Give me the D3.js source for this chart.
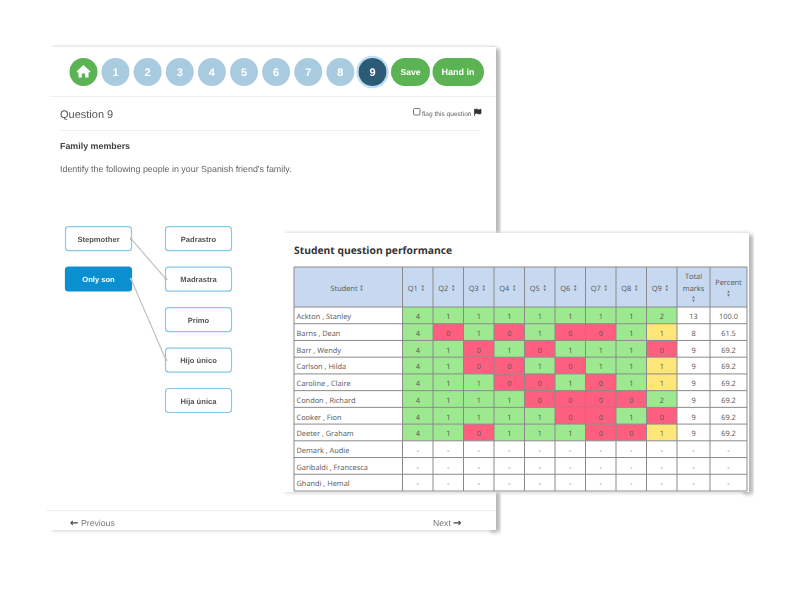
<!DOCTYPE html>
<html>
<head>
<meta charset="utf-8">
<script src="https://cdnjs.cloudflare.com/ajax/libs/d3/7.8.5/d3.min.js"></script>
<style>
html, body { margin: 0; padding: 0; background: #fff; overflow: hidden; }
svg { filter: blur(0.35px); }
text { font-family: "Liberation Sans", Arial, sans-serif; text-rendering: geometricPrecision; }
.tbl text { font-family: "Open Sans", sans-serif; }
</style>
</head>
<body>
<div id="chart"></div>
<script>
//table data
var students = ["Ackton , Stanley", "Barns , Dean", "Barr , Wendy", "Carlson , Hilda", "Caroline , Claire",
                "Condon , Richard", "Cooker , Fion", "Deeter , Graham", "Demark , Audie", "Garibaldi , Francesca", "Ghandi , Hemal"];
var questions = ["Q1", "Q2", "Q3", "Q4", "Q5", "Q6", "Q7", "Q8", "Q9"];
var q1 = [4, 4, 4, 4, 4, 4, 4, 4, null, null, null];
var q2 = [1, 0, 1, 1, 1, 1, 1, 1, null, null, null];
var q3 = [1, 1, 0, 0, 1, 1, 1, 0, null, null, null];
var q4 = [1, 0, 1, 0, 0, 1, 1, 1, null, null, null];
var q5 = [1, 1, 0, 1, 0, 0, 1, 1, null, null, null];
var q6 = [1, 0, 1, 0, 1, 0, 0, 1, null, null, null];
var q7 = [1, 0, 1, 1, 0, 0, 0, 0, null, null, null];
var q8 = [1, 1, 1, 1, 1, 0, 1, 0, null, null, null];
var q9 = [2, 1, 0, 1, 1, 2, 0, 1, null, null, null];
var totals = ["13", "8", "9", "9", "9", "9", "9", "9", "-", "-", "-"];
var percents = ["100.0", "61.5", "69.2", "69.2", "69.2", "69.2", "69.2", "69.2", "-", "-", "-"];
var scores = [q1, q2, q3, q4, q5, q6, q7, q8, q9];

//quiz data
var navPages = ["1", "2", "3", "4", "5", "6", "7", "8", "9"];
var leftItems = ["Stepmother", "Only son"];
var rightItems = ["Padrastro", "Madrastra", "Primo", "Hijo único", "Hija única"];
var links = [["Stepmother", "Madrastra"], ["Only son", "Hijo único"]];

var svg = d3.select("#chart").append("svg")
            .attr("width", 800)
            .attr("height", 599);

var defs = svg.append("defs");
defs.append("filter").attr("id", "shadow")
    .attr("x", "-5%").attr("y", "-5%").attr("width", "110%").attr("height", "110%")
    .append("feGaussianBlur").attr("stdDeviation", 2.2);
defs.append("filter").attr("id", "shadowSoft")
    .attr("x", "-5%").attr("y", "-5%").attr("width", "110%").attr("height", "110%")
    .append("feGaussianBlur").attr("stdDeviation", 1.5);

//a white card, faint shadow all round and a heavier one down the right side
function card(x, y, w, h) {
  svg.append("rect").attr("x", x + 2).attr("y", y - 1).attr("width", w - 2).attr("height", h + 2.5)
     .attr("fill", "#dcdcdc").attr("filter", "url(#shadowSoft)");
  svg.append("rect").attr("x", x + w - 6).attr("y", y + 2).attr("width", 10).attr("height", h)
     .attr("fill", "#b4b4b4").attr("filter", "url(#shadow)");
  svg.append("rect").attr("x", x).attr("y", y).attr("width", w).attr("height", h).attr("fill", "#fff");
}

function txt(parent, x, y, s, size, color, anchor, weight) {
  return parent.append("text")
    .attr("x", x).attr("y", y)
    .attr("font-size", size)
    .attr("fill", color)
    .attr("text-anchor", anchor || "start")
    .attr("font-weight", weight || "normal")
    .text(s);
}

//question card
card(50, 47, 446, 483);

var quiz = svg.append("g");

//nav buttons
var navX = d3.scalePoint().domain(navPages).range([115.5, 372.5]);
var navColor = d3.scaleOrdinal().domain(navPages).range(navPages.map(function(p) { return p == "9" ? "#2c5b78" : "#a9cbdf"; }));

quiz.append("circle").attr("cx", 83.5).attr("cy", 72).attr("r", 14).attr("fill", "#5cb354");
quiz.append("path")
    .attr("transform", "translate(83.5,71.5)")
    .attr("d", "M-7,0 L0,-6.5 L7,0 L5.6,1.2 L5,0.7 L5,6 L1.7,6 L1.7,2 L-1.7,2 L-1.7,6 L-5,6 L-5,0.7 L-5.6,1.2 Z")
    .attr("fill", "#fff");

quiz.append("circle").attr("cx", navX("9")).attr("cy", 72).attr("r", 15.2)
    .attr("fill", "none").attr("stroke", "#bcdcf8").attr("stroke-width", 2);
quiz.selectAll(".nav").data(navPages).enter().append("circle")
    .attr("class", "nav")
    .attr("cx", function(d) { return navX(d); })
    .attr("cy", 72).attr("r", 14)
    .attr("fill", function(d) { return navColor(d); });
quiz.selectAll(".navlabel").data(navPages).enter().append("text")
    .attr("class", "navlabel")
    .attr("x", function(d) { return navX(d); })
    .attr("y", 76)
    .attr("text-anchor", "middle")
    .attr("font-size", 11)
    .attr("font-weight", "bold")
    .attr("fill", "#fff")
    .text(function(d) { return d; });

quiz.append("rect").attr("x", 391).attr("y", 58).attr("width", 39).attr("height", 28).attr("rx", 14).attr("fill", "#5cb354");
txt(quiz, 410.5, 74.5, "Save", 8.6, "#fff", "middle", "bold");
quiz.append("rect").attr("x", 432.5).attr("y", 58).attr("width", 51.5).attr("height", 28).attr("rx", 14).attr("fill", "#5cb354");
txt(quiz, 458, 74.5, "Hand in", 9, "#fff", "middle", "bold");

quiz.append("line").attr("x1", 50).attr("x2", 496).attr("y1", 96.5).attr("y2", 96.5).attr("stroke", "#f0f0f0");
txt(quiz, 60, 117.5, "Question 9", 11, "#555");

quiz.append("rect").attr("x", 413.5).attr("y", 108.5).attr("width", 6.5).attr("height", 6.5).attr("rx", 1)
    .attr("fill", "#fff").attr("stroke", "#777");
txt(quiz, 422, 115.5, "flag this question", 6.6, "#666");
quiz.append("path")
    .attr("d", "M474.5,109 L474.5,116 M475,109.5 L477,109 L478.5,110 L481,109.2 L481,113.5 L478.5,114 L477,113 L475,113.7 Z")
    .attr("fill", "#333").attr("stroke", "#333").attr("stroke-width", 0.8);

quiz.append("line").attr("x1", 60).attr("x2", 480).attr("y1", 130.5).attr("y2", 130.5).attr("stroke", "#eee");
txt(quiz, 60, 149, "Family members", 8.9, "#444", "start", "bold");
txt(quiz, 60, 171.5, "Identify the following people in your Spanish friend's family.", 8.9, "#666");

//matching boxes
var leftY = d3.scalePoint().domain(leftItems).range([238.7, 279]);
var rightY = d3.scalePoint().domain(rightItems).range([238.7, 400.5]);

quiz.selectAll(".lbox").data(leftItems).enter().append("rect")
    .attr("class", "lbox")
    .attr("x", 65.5).attr("width", 66).attr("height", 24).attr("rx", 3)
    .attr("y", function(d) { return leftY(d) - 12; })
    .attr("fill", function(d) { return d == "Only son" ? "#0a8fd0" : "#fff"; })
    .attr("stroke", function(d) { return d == "Only son" ? "#0a8fd0" : "#86c8e6"; })
    .attr("stroke-width", 1.2);
quiz.selectAll(".llabel").data(leftItems).enter().append("text")
    .attr("class", "llabel")
    .attr("x", 98.5)
    .attr("y", function(d) { return leftY(d) + 3; })
    .attr("text-anchor", "middle").attr("font-size", 7.6).attr("font-weight", "bold")
    .attr("fill", function(d) { return d == "Only son" ? "#fff" : "#555"; })
    .text(function(d) { return d; });

quiz.selectAll(".rbox").data(rightItems).enter().append("rect")
    .attr("class", "rbox")
    .attr("x", 165.5).attr("width", 66).attr("height", 24).attr("rx", 3)
    .attr("y", function(d) { return rightY(d) - 12; })
    .attr("fill", "#fff")
    .attr("stroke", "#86c8e6").attr("stroke-width", 1.2);
quiz.selectAll(".rlabel").data(rightItems).enter().append("text")
    .attr("class", "rlabel")
    .attr("x", 198.5)
    .attr("y", function(d) { return rightY(d) + 3; })
    .attr("text-anchor", "middle").attr("font-size", 7.6).attr("font-weight", "bold")
    .attr("fill", "#555")
    .text(function(d) { return d; });

//the lines go over the boxes, with a small dot at each end
links.forEach(function(l) {
  quiz.append("line")
      .attr("x1", 131).attr("y1", leftY(l[0]))
      .attr("x2", 166).attr("y2", rightY(l[1]))
      .attr("stroke", "#bdbdbd").attr("stroke-width", 1.1);
  quiz.append("circle").attr("cx", 131).attr("cy", leftY(l[0])).attr("r", 1.3).attr("fill", "#bdbdbd");
  quiz.append("circle").attr("cx", 166).attr("cy", rightY(l[1])).attr("r", 1.3).attr("fill", "#bdbdbd");
});

//footer of the question card
quiz.append("line").attr("x1", 46).attr("x2", 496).attr("y1", 510.5).attr("y2", 510.5).attr("stroke", "#f0f0f0");
txt(quiz, 70, 526, "←", 10, "#444", "start", "bold").style("font-family", "DejaVu Sans");
txt(quiz, 81, 525.5, "Previous", 8.7, "#777");
txt(quiz, 433, 525.5, "Next", 8.7, "#777");
txt(quiz, 453, 526, "→", 10, "#444", "start", "bold").style("font-family", "DejaVu Sans");

//performance table card
card(283, 233, 466, 259);
var tbl = svg.append("g").attr("class", "tbl");

txt(tbl, 294, 253.5, "Student question performance", 10.3, "#333", "start", "bold");

var headerTop = 267, headerBottom = 307;
var rowY = d3.scaleBand().domain(students).range([headerBottom, 491]);
var qX = d3.scaleBand().domain(questions).range([402.5, 677]);
var scoreColor = d3.scaleOrdinal().domain(["red", "amber", "green"]).range(["#ff5f7f", "#ffe679", "#9ce98f"]);
var grid = "#8a8a8a";
var labelSize = 7.4;

//Q9 is out of 2 and Q1 out of 4, so only Q9 has a middle colour
function cellColor(v, q) {
  if (v === null) return "#fff";
  if (v === 0) return scoreColor("red");
  if (q == "Q9" && v == 1) return scoreColor("amber");
  return scoreColor("green");
}

function rowText(name) {
  return rowY(name) + rowY.bandwidth() / 2 + 3.8;
}

//header row
tbl.append("rect").attr("x", 294).attr("y", headerTop).attr("width", 453).attr("height", headerBottom - headerTop).attr("fill", "#c7d9f0");

function sortIcon(x, y) {
  tbl.append("path").attr("transform", "translate(" + x + "," + (y - 1.6) + ")")
     .attr("d", d3.symbol().type(d3.symbolTriangle).size(3.2)).attr("fill", "#777");
  tbl.append("path").attr("transform", "translate(" + x + "," + (y + 1.6) + ") rotate(180)")
     .attr("d", d3.symbol().type(d3.symbolTriangle).size(3.2)).attr("fill", "#777");
}

txt(tbl, 344, 290.5, "Student", labelSize, "#555", "middle");
sortIcon(361.5, 288);

questions.forEach(function(q) {
  var cx = qX(q) + qX.bandwidth() / 2;
  txt(tbl, cx - 5, 290.5, q, labelSize, "#555", "middle");
  sortIcon(cx + 5, 288);
});

txt(tbl, 693.5, 279, "Total", labelSize, "#555", "middle");
txt(tbl, 693.5, 291, "marks", labelSize, "#555", "middle");
sortIcon(693.5, 299);
txt(tbl, 728.5, 285, "Percent", labelSize, "#555", "middle");
sortIcon(728.5, 293.5);

//score cells
scores.forEach(function(col, i) {
  var q = questions[i];
  tbl.selectAll(".cell" + q).data(col).enter().append("rect")
     .attr("class", "cell" + q)
     .attr("x", qX(q))
     .attr("y", function(d, r) { return rowY(students[r]); })
     .attr("width", qX.bandwidth())
     .attr("height", rowY.bandwidth())
     .attr("fill", function(d) { return cellColor(d, q); });
  tbl.selectAll(".val" + q).data(col).enter().append("text")
     .attr("class", "val" + q)
     .attr("x", qX(q) + qX.bandwidth() / 2)
     .attr("y", function(d, r) { return rowText(students[r]); })
     .attr("text-anchor", "middle")
     .attr("font-size", labelSize)
     .attr("fill", "#555")
     .text(function(d) { return d === null ? "-" : d; });
});

tbl.selectAll(".student").data(students).enter().append("text")
   .attr("class", "student")
   .attr("x", 296.5)
   .attr("y", function(d) { return rowText(d); })
   .attr("font-size", labelSize)
   .attr("fill", "#555")
   .text(function(d) { return d; });

tbl.selectAll(".total").data(totals).enter().append("text")
   .attr("class", "total")
   .attr("x", 693.5)
   .attr("y", function(d, r) { return rowText(students[r]); })
   .attr("text-anchor", "middle").attr("font-size", labelSize).attr("fill", "#555")
   .text(function(d) { return d; });

tbl.selectAll(".percent").data(percents).enter().append("text")
   .attr("class", "percent")
   .attr("x", 728.5)
   .attr("y", function(d, r) { return rowText(students[r]); })
   .attr("text-anchor", "middle").attr("font-size", labelSize).attr("fill", "#555")
   .text(function(d) { return d; });

//grid lines
var rowLines = [headerTop, headerBottom].concat(students.slice(1).map(function(s) { return rowY(s); })).concat([491]);
tbl.selectAll(".hline").data(rowLines).enter().append("line")
   .attr("class", "hline")
   .attr("x1", 294).attr("x2", 747)
   .attr("y1", function(d) { return d; })
   .attr("y2", function(d) { return d; })
   .attr("stroke", grid).attr("stroke-width", 1);

var colLines = [294].concat(questions.map(function(q) { return qX(q); })).concat([677, 710, 747]);
tbl.selectAll(".vline").data(colLines).enter().append("line")
   .attr("class", "vline")
   .attr("x1", function(d) { return d; })
   .attr("x2", function(d) { return d; })
   .attr("y1", headerTop).attr("y2", 491)
   .attr("stroke", grid).attr("stroke-width", 1);
</script>
</body>
</html>
